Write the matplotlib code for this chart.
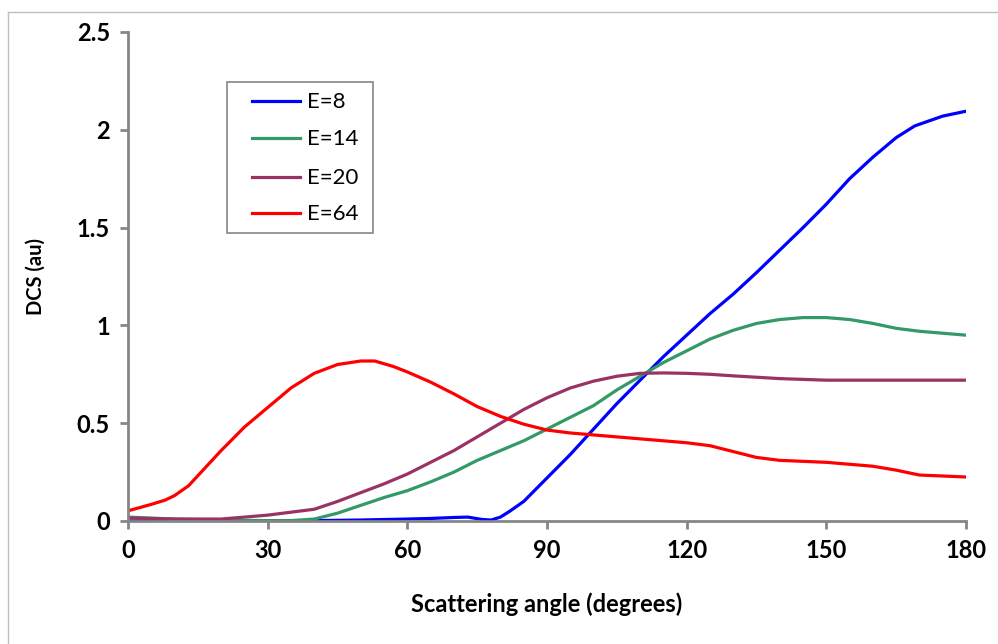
import matplotlib
matplotlib.use("Agg")
import matplotlib.pyplot as plt
from matplotlib.lines import Line2D
from matplotlib.patches import Rectangle

plt.rcParams['font.family'] = ['Lato', 'DejaVu Sans']

# ---- data ----
x_e8 = [0, 10, 20, 30, 40, 50, 60, 65, 70, 73, 76, 78, 80, 82, 85, 90, 95, 100, 105,
        110, 115, 120, 125, 130, 135, 140, 145, 150, 155, 160, 165, 169, 175, 180]
y_e8 = [0, 0, 0, 0, 0.002, 0.005, 0.01, 0.013, 0.018, 0.02, 0.008, 0.005, 0.02, 0.05,
        0.1, 0.22, 0.34, 0.47, 0.6, 0.72, 0.84, 0.95, 1.06, 1.16, 1.27, 1.385, 1.5,
        1.62, 1.75, 1.86, 1.96, 2.02, 2.07, 2.095]

x_e14 = [0, 5, 10, 20, 30, 35, 40, 45, 50, 55, 60, 65, 70, 75, 80, 85, 90, 95, 100,
         105, 110, 115, 120, 125, 130, 135, 140, 145, 150, 155, 160, 165, 170, 175, 180]
y_e14 = [0.02, 0.015, 0.01, 0.005, 0.002, 0.002, 0.01, 0.04, 0.08, 0.12, 0.155, 0.2,
         0.25, 0.31, 0.36, 0.41, 0.47, 0.53, 0.59, 0.67, 0.74, 0.81, 0.87, 0.93, 0.975,
         1.01, 1.03, 1.04, 1.04, 1.03, 1.01, 0.985, 0.97, 0.96, 0.95]

x_e20 = [0, 10, 20, 30, 40, 45, 50, 55, 60, 65, 70, 75, 80, 85, 90, 95, 100, 105, 110,
         115, 120, 125, 130, 140, 150, 160, 170, 180]
y_e20 = [0.015, 0.01, 0.01, 0.03, 0.06, 0.1, 0.145, 0.19, 0.24, 0.3, 0.36, 0.43, 0.5,
         0.57, 0.63, 0.68, 0.715, 0.74, 0.755, 0.757, 0.755, 0.75, 0.742, 0.728, 0.72,
         0.72, 0.72, 0.72]

x_e64 = [0, 5, 8, 10, 13, 20, 25, 30, 35, 40, 45, 50, 53, 57, 60, 65, 70, 75, 80, 85,
         90, 95, 100, 110, 120, 125, 130, 135, 140, 150, 155, 160, 165, 170, 175, 180]
y_e64 = [0.052, 0.085, 0.107, 0.13, 0.18, 0.36, 0.48, 0.58, 0.68, 0.755, 0.8, 0.818,
         0.818, 0.79, 0.762, 0.71, 0.65, 0.585, 0.535, 0.495, 0.465, 0.45, 0.44, 0.42,
         0.40, 0.385, 0.355, 0.325, 0.31, 0.30, 0.29, 0.28, 0.26, 0.235, 0.23, 0.225]

labels = ['E=8', 'E=14', 'E=20', 'E=64']
colors = ['#0000FF', '#339966', '#993366', '#FF0000']
x_ticks = [0, 30, 60, 90, 120, 150, 180]
y_ticks = [0, 0.5, 1, 1.5, 2, 2.5]
y_tick_labels = ['0', '0.5', '1', '1.5', '2', '2.5']

W, H = 998, 644
fig = plt.figure(figsize=(W / 100, H / 100), dpi=100)


def fx(px):
    return px / W


def fy(py):
    return 1 - py / H


# outer chart frame (top and left visible)
fig.add_artist(Line2D([fx(8), fx(8)], [0, fy(12)], transform=fig.transFigure,
                      color='#BFBFBF', lw=1))
fig.add_artist(Line2D([fx(8), 1], [fy(12), fy(12)], transform=fig.transFigure,
                      color='#BFBFBF', lw=1))

ax = fig.add_axes([fx(128), fy(521), (966 - 128) / W, (521 - 32) / H])

series = [(x_e8, y_e8), (x_e14, y_e14), (x_e20, y_e20), (x_e64, y_e64)]
for (xs, ys), lab, c in zip(series, labels, colors):
    ax.plot(xs, ys, color=c, lw=2.3, label=lab, solid_joinstyle='round')

ax.set_xlim(0, 180)
ax.set_ylim(0, 2.5)
ax.set_xticks(x_ticks)
ax.set_yticks(y_ticks)
ax.set_yticklabels(y_tick_labels)

for s in ['top', 'right']:
    ax.spines[s].set_visible(False)
for s in ['left', 'bottom']:
    ax.spines[s].set_color('#868686')
    ax.spines[s].set_linewidth(2)

ax.tick_params(axis='both', direction='out', length=6, width=2, color='#868686',
               labelsize=17, pad=7)
for t in ax.get_xticklabels() + ax.get_yticklabels():
    t.set_fontweight('bold')

ax.set_xlabel('Scattering angle (degrees)', fontsize=17, fontweight='bold', labelpad=22)
ax.set_ylabel('DCS (au)', fontsize=14.5, fontweight='bold', labelpad=22)

# legend box drawn manually (matches reference geometry)
fig.add_artist(Rectangle((fx(227), fy(233)), fx(373) - fx(227), fy(82) - fy(233),
                         transform=fig.transFigure, facecolor='white',
                         edgecolor='#868686', lw=1.2, zorder=5))
leg_rows = [101, 138, 177, 213]
for row, lab, c in zip(leg_rows, labels, colors):
    fig.add_artist(Line2D([fx(252), fx(300)], [fy(row), fy(row)],
                          transform=fig.transFigure, color=c, lw=2.3, zorder=6))
    fig.text(fx(307), fy(row + 1), lab, fontsize=16, va='center', ha='left', zorder=6)

fig.savefig('out.png', dpi=100, facecolor='white')
